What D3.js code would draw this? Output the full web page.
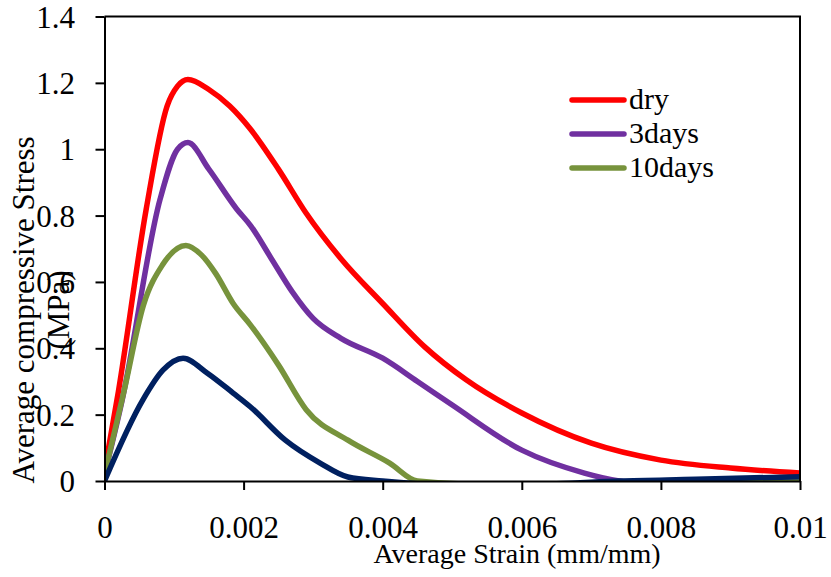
<!DOCTYPE html>
<html>
<head>
<meta charset="utf-8">
<script src="https://cdn.jsdelivr.net/npm/d3@7"></script>
<style>
  body { margin: 0; background: #fff; }
</style>
</head>
<body>
<div id="chart"></div>
<script>
var WIDTH = 831;
var HEIGHT = 577;
var FONT = "Liberation Serif, DejaVu Serif, serif";

// stress-strain curves (strain in mm/mm, stress in MPa)
var dryStrain = [0, 0.0002, 0.0006, 0.0009, 0.00105, 0.0012, 0.0015, 0.0018, 0.0021, 0.0025, 0.0029, 0.0034, 0.004, 0.0046, 0.0052, 0.006, 0.007, 0.008, 0.009, 0.01];
var dryStress = [0.03, 0.27, 0.82, 1.13, 1.19, 1.21, 1.18, 1.13, 1.06, 0.94, 0.807, 0.67, 0.535, 0.405, 0.305, 0.205, 0.114, 0.063, 0.039, 0.024];

var days3Strain = [0, 0.00025, 0.0008, 0.00105, 0.0012, 0.0015, 0.0019, 0.0021, 0.0024, 0.0027, 0.003, 0.0034, 0.004, 0.0045, 0.005, 0.006, 0.0069, 0.0074, 0.008];
var days3Stress = [0.02, 0.24, 0.85, 1.0, 1.02, 0.94, 0.82, 0.77, 0.67, 0.57, 0.49, 0.43, 0.37, 0.3, 0.229, 0.093, 0.024, 0, -0.01];

var days10Strain = [0, 0.00028, 0.00056, 0.00083, 0.00117, 0.0014, 0.0016, 0.00185, 0.0021, 0.0025, 0.0029, 0.0035, 0.0041, 0.0045, 0.0055, 0.007, 0.0085, 0.0095, 0.01];
var days10Stress = [0.02, 0.27, 0.53, 0.65, 0.71, 0.68, 0.625, 0.535, 0.47, 0.35, 0.215, 0.123, 0.054, 0, -0.01, -0.01, -0.01, 0, 0.004];

var d4Strain = [0, 0.00055, 0.00084, 0.00113, 0.00148, 0.00185, 0.0021, 0.0026, 0.0031, 0.0035, 0.004, 0.005, 0.0065, 0.0074, 0.0085, 0.01];
var d4Stress = [0, 0.244, 0.334, 0.37, 0.325, 0.265, 0.223, 0.123, 0.054, 0.012, 0, -0.012, -0.008, 0, 0.005, 0.013];

var seriesNames = ["dry", "3days", "10days", ""];
var seriesColors = ["#ff0000", "#7030a0", "#77933c", "#002060"];

var xTicks = [0, 0.002, 0.004, 0.006, 0.008, 0.01];
var yTicks = [0, 0.2, 0.4, 0.6, 0.8, 1, 1.2, 1.4];

var series = [
  {strain: dryStrain, stress: dryStress},
  {strain: days3Strain, stress: days3Stress},
  {strain: days10Strain, stress: days10Stress},
  {strain: d4Strain, stress: d4Stress}
];

var margin = {left: 104.5, right: WIDTH - 800, top: 16.5, bottom: HEIGHT - 481};

var x = d3.scaleLinear().domain([0, 0.01]).range([margin.left, WIDTH - margin.right]);
var y = d3.scaleLinear().domain([0, 1.4]).range([HEIGHT - margin.bottom, margin.top]);

var svg = d3.select("#chart").append("svg")
  .attr("width", WIDTH)
  .attr("height", HEIGHT)
  .attr("font-family", FONT);

svg.append("clipPath").attr("id", "plot-clip")
  .append("rect")
  .attr("x", x(0)).attr("y", y(1.4))
  .attr("width", x(0.01) - x(0)).attr("height", y(0) - y(1.4));

var line = d3.line()
  .x(d => x(d[0]))
  .y(d => y(d[1]))
  .curve(d3.curveMonotoneX);

var lines = svg.append("g").attr("clip-path", "url(#plot-clip)");
series.forEach((s, i) => {
  var pts = s.strain.map((v, j) => [v, s.stress[j]]);
  lines.append("path")
    .datum(pts)
    .attr("d", line)
    .attr("fill", "none")
    .attr("stroke", seriesColors[i])
    .attr("stroke-width", 5.5)
    .attr("stroke-linejoin", "round");
});

// plot frame (top + right)
svg.append("path")
  .attr("d", `M${x(0)},${y(1.4)}H${x(0.01)}V${y(0)}`)
  .attr("fill", "none")
  .attr("stroke", "#000")
  .attr("stroke-width", 2);

var xAxis = svg.append("g")
  .attr("transform", `translate(0,${y(0)})`)
  .call(d3.axisBottom(x).tickValues(xTicks).tickSize(9).tickSizeOuter(0)
    .tickFormat(d => d === 0 ? "0" : String(+d.toFixed(3))));

var yAxis = svg.append("g")
  .attr("transform", `translate(${x(0)},0)`)
  .call(d3.axisLeft(y).tickValues(yTicks).tickSize(9).tickSizeOuter(0)
    .tickFormat(d => String(+d.toFixed(1))));

[xAxis, yAxis].forEach(g => {
  g.attr("font-family", FONT).attr("font-size", 31);
  g.select(".domain").attr("stroke", "#000").attr("stroke-width", 2);
  g.selectAll(".tick line").attr("stroke", "#000").attr("stroke-width", 2);
  g.selectAll(".tick text").attr("fill", "#000");
});

xAxis.selectAll(".tick text").attr("y", 57).attr("dy", null);
yAxis.selectAll(".tick text").attr("x", -29.5).attr("dy", "0.34em");

// axis titles
svg.append("text")
  .attr("x", 517)
  .attr("y", 563)
  .attr("text-anchor", "middle")
  .attr("font-size", 28)
  .text("Average Strain (mm/mm)");

var yTitle = svg.append("text")
  .attr("transform", "translate(0,310) rotate(-90)")
  .attr("text-anchor", "middle")
  .attr("font-size", 31);
yTitle.append("tspan").attr("x", 0).attr("y", 34).text("Average compressive Stress");
yTitle.append("tspan").attr("x", 0).attr("y", 69).text("(MPa)");

// legend
var legend = svg.append("g");
seriesNames.slice(0, 3).forEach((name, i) => {
  var ly = 100 + i * 34;
  legend.append("line")
    .attr("x1", 572).attr("x2", 624)
    .attr("y1", ly).attr("y2", ly)
    .attr("stroke", seriesColors[i])
    .attr("stroke-width", 5.5)
    .attr("stroke-linecap", "round");
  legend.append("text")
    .attr("x", 629)
    .attr("y", ly + 9)
    .attr("font-size", 30)
    .text(name);
});
</script>
</body>
</html>
